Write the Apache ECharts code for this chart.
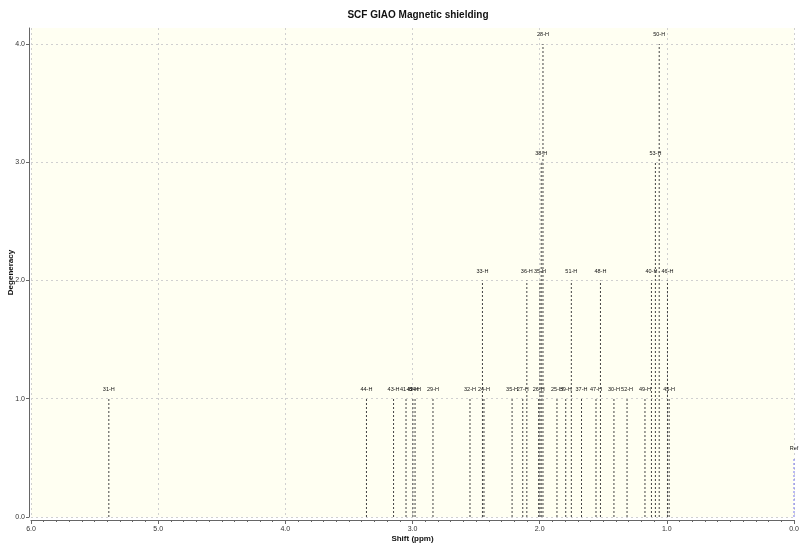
<!DOCTYPE html>
<html>
<head>
<meta charset="utf-8">
<script src="https://cdn.jsdelivr.net/npm/echarts@6/dist/echarts.min.js"></script>
<style>html,body{margin:0;padding:0;background:#fff}#c{width:800px;height:543px}</style>
</head>
<body>
<div id="c"></div>
<script>
// Chemical shift (ppm), degeneracy and atom labels
const shifts = [5.388, 3.362, 3.149, 3.051, 2.997, 2.980, 2.839, 2.548, 2.450, 2.438,
  2.217, 2.133, 2.101, 2.008, 1.998, 1.988, 1.974, 1.864, 1.795, 1.751,
  1.671, 1.557, 1.522, 1.416, 1.313, 1.172, 1.121, 1.090, 1.060, 0.995, 0.982];
const degeneracy = [1, 1, 1, 1, 1, 1, 1, 1, 2, 1,
  1, 1, 2, 1, 2, 3, 4, 1, 1, 2,
  1, 1, 2, 1, 1, 1, 2, 3, 4, 2, 1];
const atomLabels = ["31-H", "44-H", "43-H", "41-H", "42-H", "34-H", "29-H", "32-H", "33-H", "24-H",
  "35-H", "27-H", "36-H", "26-H", "35-H", "38-H", "28-H", "25-H", "39-H", "51-H",
  "37-H", "47-H", "48-H", "30-H", "52-H", "49-H", "40-H", "53-H", "50-H", "46-H", "45-H"];
const refShift = [0.0];
const refHeight = [0.5];
const refLabel = ["Ref"];
const xTicks = ["6.0", "5.0", "4.0", "3.0", "2.0", "1.0", "0.0"];

const FONT = "Liberation Sans";
const chart = echarts.init(document.getElementById('c'), null, {renderer: 'canvas'});

function stickRenderer(labels, color) {
  return function (params, api) {
    const x = api.value(0), h = api.value(1);
    const p0 = api.coord([x, 0]);
    const p1 = api.coord([x, h]);
    return {
      type: 'group',
      children: [
        {type: 'line', shape: {x1: p0[0], y1: p0[1], x2: p1[0], y2: p1[1]},
         style: {stroke: color, lineWidth: 1, lineDash: [2, 2]}},
        {type: 'text', x: p1[0], y: p1[1] - 9,
         style: {text: labels[params.dataIndex], fontSize: 5.5, fontFamily: FONT, fill: '#111',
                 align: 'center', verticalAlign: 'middle'}}
      ]
    };
  };
}

chart.setOption({
  animation: false,
  backgroundColor: '#ffffff',
  title: {
    text: 'SCF GIAO Magnetic shielding', left: 413, top: 5, textAlign: 'center',
    textStyle: {fontFamily: FONT, fontSize: 10, fontWeight: 'bold', color: '#111'}
  },
  grid: {left: 31, right: 6, top: 28, bottom: 26, show: true, backgroundColor: '#fffff2', borderWidth: 0,
         containLabel: false, outerBoundsMode: 'none'},
  xAxis: {
    type: 'value', min: 0, max: 6, interval: 1, inverse: true, offset: 3,
    name: 'Shift (ppm)', nameLocation: 'middle', nameGap: 15, nameMoveOverlap: false,
    nameTextStyle: {fontFamily: FONT, fontSize: 8, fontWeight: 'bold', color: '#111'},
    axisLine: {onZero: false, lineStyle: {color: '#666'}},
    axisTick: {length: 4, lineStyle: {color: '#666'}},
    minorTick: {show: true, splitNumber: 10, length: 2, lineStyle: {color: '#666'}},
    axisLabel: {fontFamily: FONT, fontSize: 7, color: '#333', margin: 6,
                formatter: function (v) { return xTicks[6 - Math.round(v)]; }},
    splitLine: {show: true, lineStyle: {color: '#d0d0d0', type: [2, 3]}}
  },
  yAxis: {
    type: 'value', min: 0, max: 4.135, interval: 1, offset: 2, position: 'left',
    name: 'Degeneracy', nameLocation: 'middle', nameGap: 14, nameMoveOverlap: false,
    nameTextStyle: {fontFamily: FONT, fontSize: 8, fontWeight: 'bold', color: '#111'},
    axisLine: {show: true, onZero: false, lineStyle: {color: '#666'}},
    axisTick: {show: true, length: 3, lineStyle: {color: '#666'}},
    axisLabel: {fontFamily: FONT, fontSize: 7, color: '#333', margin: 4, showMaxLabel: false,
                formatter: function (v) { return Math.abs(v - Math.round(v)) < 1e-6 ? v.toFixed(1) : ''; }},
    splitLine: {show: true, showMaxLine: false, lineStyle: {color: '#d0d0d0', type: [2, 3]}}
  },
  series: [
    {type: 'custom', clip: false, renderItem: stickRenderer(atomLabels, '#444'),
     data: shifts.map(function (s, i) { return [s, degeneracy[i]]; })},
    {type: 'custom', clip: false, renderItem: stickRenderer(refLabel, '#7777ee'),
     data: refShift.map(function (s, i) { return [s, refHeight[i]]; })}
  ]
});
</script>
</body>
</html>
